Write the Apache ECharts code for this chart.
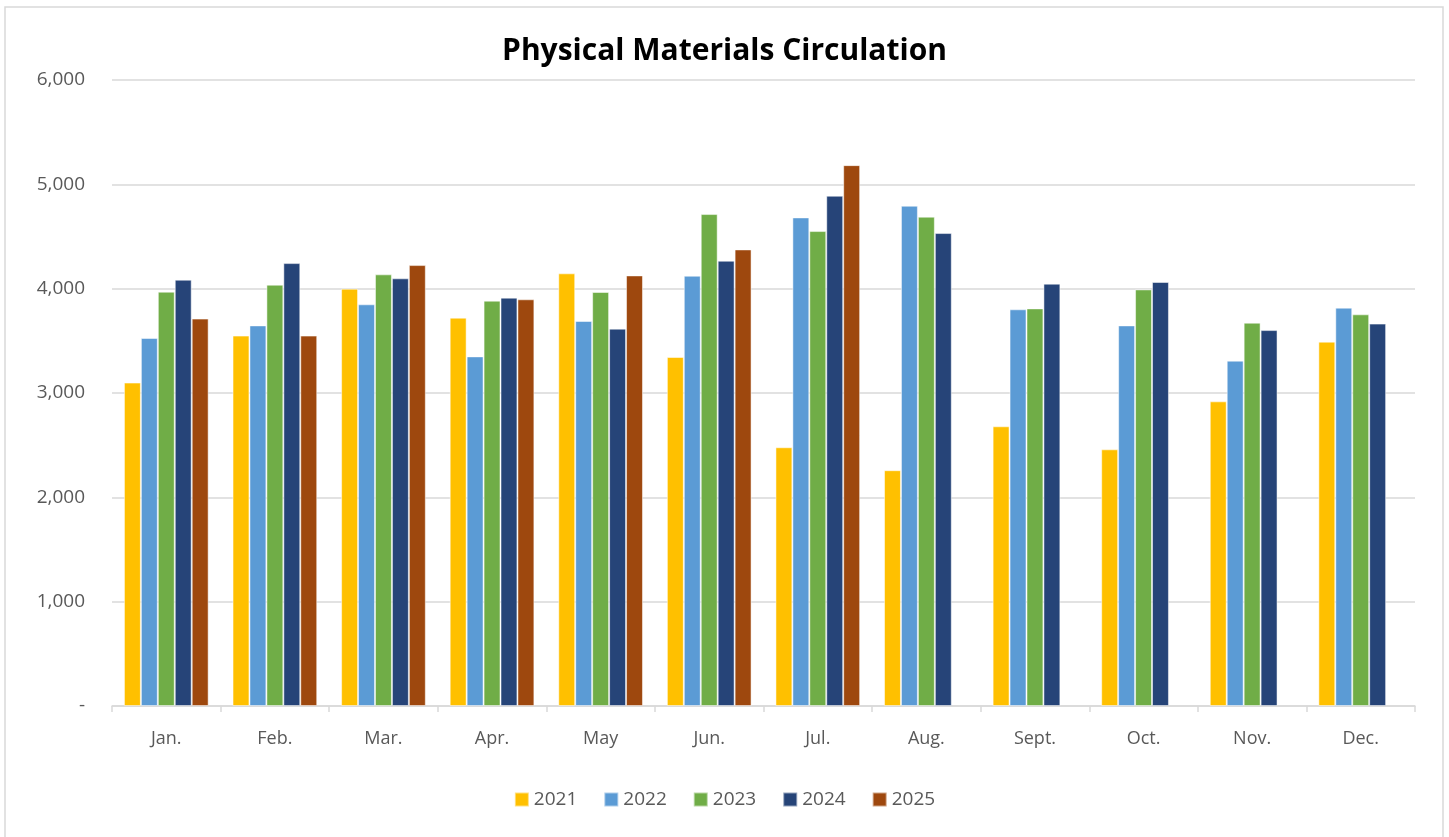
<!DOCTYPE html>
<html><head><meta charset="utf-8">
<script src="https://cdn.jsdelivr.net/npm/echarts@6/dist/echarts.min.js"></script>
<style>html,body{margin:0;padding:0;background:#fff}#c{width:1449px;height:837px}</style>
</head><body><div id="c"></div>
<script>
const categories = ['Jan.','Feb.','Mar.','Apr.','May','Jun.','Jul.','Aug.','Sept.','Oct.','Nov.','Dec.'];
const years = ['2021','2022','2023','2024','2025'];
const colors = ['#FFC000','#5B9BD5','#70AD47','#264478','#9E480E'];
const v2021 = [3100,3550,4000,3722,4147,3345,2480,2260,2681,2460,2920,3492];
const v2022 = [3527,3648,3850,3351,3690,4124,4683,4795,3802,3648,3310,3818];
const v2023 = [3971,4038,4137,3885,3968,4715,4552,4690,3811,3993,3674,3754];
const v2024 = [4086,4245,4099,3914,3617,4268,4891,4533,4048,4064,3603,3665];
const v2025 = [3713,3550,4226,3898,4127,4376,5184,null,null,null,null,null];
const yTicks = [0,1000,2000,3000,4000,5000,6000];
const seriesValues = [v2021,v2022,v2023,v2024,v2025];

const chart = echarts.init(document.getElementById('c'));
const font = '"Open Sans", "Liberation Sans", sans-serif';
chart.setOption({
  animation:false,
  textStyle:{fontFamily:font},
  title:{text:'Physical Materials Circulation',left:'center',top:31,
    textStyle:{fontFamily:font,fontWeight:'bold',fontSize:30,color:'#000'}},
  graphic:[{type:'rect',shape:{x:5,y:7,width:1438,height:850},style:{fill:'none',stroke:'#d9d9d9',lineWidth:1.5},silent:true}],
  legend:{bottom:23,left:'center',itemWidth:14,itemHeight:14,itemGap:26,icon:'rect',
    textStyle:{fontSize:19,color:'#595959',fontFamily:font},data:years},
  grid:{left:112,right:34,top:80,bottom:131,containLabel:false},
  xAxis:{type:'category',data:categories,
    axisLine:{lineStyle:{color:'#d9d9d9',width:1.5}},
    axisTick:{show:true,length:6,lineStyle:{color:'#d9d9d9',width:1.5}},
    axisLabel:{fontSize:18,color:'#595959',margin:24,fontFamily:font}},
  yAxis:{type:'value',min:yTicks[0],max:yTicks[yTicks.length-1],interval:1000,
    axisLine:{show:false},axisTick:{show:false},
    splitLine:{lineStyle:{color:'#d9d9d9',width:1.5}},
    axisLabel:{fontSize:19,color:'#595959',margin:27,fontFamily:font,
      formatter:v=> v===0?'-':v.toLocaleString('en-US')}},
  series: years.map((y,i)=>({name:y,type:'bar',data:seriesValues[i],
    barGap:'0%',barCategoryGap:'22%',
    itemStyle:{color:colors[i],borderColor:'rgba(255,255,255,0.5)',borderWidth:1}}))
});
</script></body></html>
